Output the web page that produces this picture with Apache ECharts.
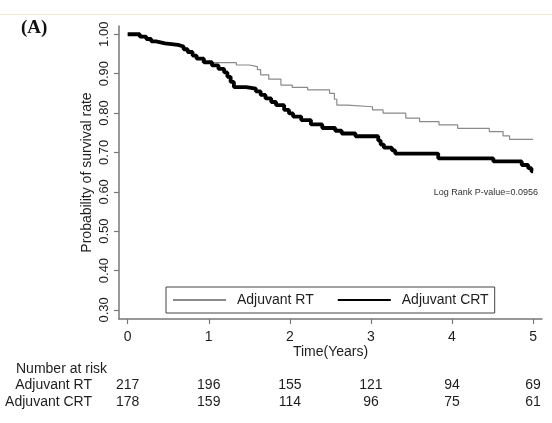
<!DOCTYPE html>
<html>
<head>
<meta charset="utf-8">
<script src="https://cdn.jsdelivr.net/npm/echarts@6/dist/echarts.min.js"></script>
<style>
html, body { margin: 0; padding: 0; background: #fff; }
#main { width: 552px; height: 423px; }
</style>
</head>
<body>
<div id="main"></div>
<script>
// Kaplan-Meier step data (time in years, survival after the drop)
var rtTime = [0, 0.15, 0.23, 0.29, 0.35, 0.46, 0.62, 0.69, 0.74, 0.80, 0.86, 0.92, 1.34, 1.50, 1.60, 1.64, 1.74, 1.89, 2.03, 2.22, 2.49, 2.55, 2.58, 2.71, 3.02, 3.15, 3.43, 3.60, 3.84, 4.07, 4.46, 4.63, 4.71, 5.0];
var rtSurv = [1, .994, .988, .982, .977, .973, .969, .962, .955, .945, .936, .928, .922, .918, .91, .897, .886, .871, .865, .859, .85, .835, .82, .816, .808, .80, .787, .778, .77, .761, .753, .742, .733, .733];

var crtTime = [0, 0.15, 0.23, 0.29, 0.35, 0.46, 0.62, 0.69, 0.74, 0.80, 0.85, 0.94, 1.04, 1.12, 1.19, 1.23, 1.27, 1.31, 1.46, 1.58, 1.64, 1.70, 1.77, 1.83, 1.93, 1.99, 2.04, 2.14, 2.26, 2.40, 2.56, 2.64, 2.81, 3.09, 3.12, 3.16, 3.26, 3.30, 3.83, 4.51, 4.86, 4.94, 4.98, 5.0];
var crtSurv = [1, .994, .988, .982, .977, .973, .969, .962, .955, .946, .938, .929, .921, .912, .903, .892, .879, .866, .862, .855, .846, .837, .828, .82, .808, .799, .791, .782, .771, .762, .755, .748, .741, .73, .72, .712, .705, .697, .685, .677, .668, .66, .652, .652];

var xTicks = [0, 1, 2, 3, 4, 5];
var yTicks = [0.3, 0.4, 0.5, 0.6, 0.7, 0.8, 0.9, 1.0];

var riskRT = [217, 196, 155, 121, 94, 69];
var riskCRT = [178, 159, 114, 96, 75, 61];

var FONT = '"Liberation Sans", Arial, sans-serif';
var INK = '#1e1e1e';

function pairs(t, s) {
    return t.map(function (v, i) { return [v, s[i]]; });
}

var chart = echarts.init(document.getElementById('main'));

var option = {
    animation: false,
    grid: { left: 119, right: 10, top: 26, bottom: 104 },
    xAxis: {
        type: 'value',
        min: -0.107,
        max: 5.11,
        name: 'Time(Years)',
        nameLocation: 'middle',
        nameGap: 26,
        nameMoveOverlap: false,
        nameTextStyle: { fontSize: 14, color: INK, fontFamily: FONT },
        axisLine: { onZero: false, lineStyle: { color: '#777', width: 1.5 } },
        axisTick: { customValues: xTicks, length: 5, lineStyle: { color: '#777', width: 1.2 } },
        axisLabel: { customValues: xTicks, fontSize: 14, color: INK, fontFamily: FONT, margin: 11 },
        splitLine: { show: false }
    },
    yAxis: {
        type: 'value',
        min: 0.277,
        max: 1.021,
        name: 'Probability of survival rate',
        nameLocation: 'middle',
        nameGap: 25,
        nameMoveOverlap: false,
        nameTextStyle: { fontSize: 14, color: INK, fontFamily: FONT },
        axisLine: { show: true, onZero: false, lineStyle: { color: '#777', width: 1.5 } },
        axisTick: { show: true, customValues: yTicks, length: 5, lineStyle: { color: '#777', width: 1.2 } },
        axisLabel: {
            customValues: yTicks,
            rotate: 90,
            fontSize: 13,
            color: INK,
            fontFamily: FONT,
            margin: 8,
            formatter: function (v) { return v.toFixed(2); }
        },
        splitLine: { show: false }
    },
    legend: {
        left: 166,
        top: 287,
        data: ['Adjuvant RT', 'Adjuvant CRT'],
        itemWidth: 53,
        itemHeight: 14,
        itemGap: 23,
        padding: [6, 6],
        borderColor: '#444',
        borderWidth: 1,
        borderRadius: 0,
        backgroundColor: '#fff',
        itemStyle: { opacity: 0 },
        textStyle: { fontSize: 14, color: INK, fontFamily: FONT, padding: [0, 0, 0, 6] }
    },
    series: [
        {
            name: 'Adjuvant RT',
            type: 'line',
            step: 'end',
            symbol: 'none',
            data: pairs(rtTime, rtSurv),
            lineStyle: { color: '#8a8a8a', width: 1.2 },
            itemStyle: { color: '#8a8a8a' },
            z: 2
        },
        {
            name: 'Adjuvant CRT',
            type: 'line',
            step: 'end',
            symbol: 'none',
            data: pairs(crtTime, crtSurv),
            lineStyle: { color: '#000', width: 3.8 },
            itemStyle: { color: '#000' },
            z: 3
        }
    ]
};
chart.setOption(option);

// annotations and the number-at-risk table, placed with the x scale
var g = [
    { type: 'line', shape: { x1: 0, y1: 14.5, x2: 552, y2: 14.5 }, style: { stroke: '#f4ead6', lineWidth: 1 } },
    { type: 'text', x: 21, y: 28, style: { text: '(A)', font: 'bold 19px "Liberation Serif", "Times New Roman", serif', fill: '#111', verticalAlign: 'middle' } },
    { type: 'text', x: 538, y: 193, style: { text: 'Log Rank P-value=0.0956', font: '9px ' + FONT, fill: '#333', align: 'right', verticalAlign: 'middle' } },
    { type: 'text', x: 16, y: 369, style: { text: 'Number at risk', font: '14px ' + FONT, fill: INK, verticalAlign: 'middle' } },
    { type: 'text', x: 92, y: 385, style: { text: 'Adjuvant RT', font: '14px ' + FONT, fill: INK, align: 'right', verticalAlign: 'middle' } },
    { type: 'text', x: 92, y: 402, style: { text: 'Adjuvant CRT', font: '14px ' + FONT, fill: INK, align: 'right', verticalAlign: 'middle' } }
];
xTicks.forEach(function (t, i) {
    var px = chart.convertToPixel({ xAxisIndex: 0 }, t);
    g.push({ type: 'text', x: px, y: 385, style: { text: String(riskRT[i]), font: '14px ' + FONT, fill: INK, align: 'center', verticalAlign: 'middle' } });
    g.push({ type: 'text', x: px, y: 402, style: { text: String(riskCRT[i]), font: '14px ' + FONT, fill: INK, align: 'center', verticalAlign: 'middle' } });
});
chart.setOption({ graphic: g });
</script>
</body>
</html>
